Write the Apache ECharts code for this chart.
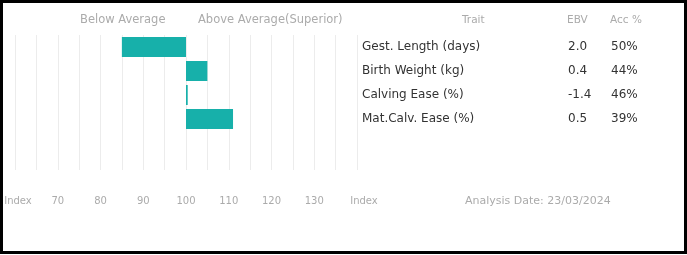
<!DOCTYPE html>
<html>
<head>
<meta charset="utf-8">
<script src="https://cdn.jsdelivr.net/npm/echarts@6/dist/echarts.min.js"></script>
<style>
  html, body { margin: 0; padding: 0; background: #fff; }
  #wrap { position: relative; width: 687px; height: 255px; }
  #chart { width: 687px; height: 255px; }
  #frame {
    position: absolute; left: 0; top: 0; width: 687px; height: 254px;
    box-sizing: border-box; border: 3px solid #000; pointer-events: none;
  }
</style>
</head>
<body>
<div id="wrap">
  <div id="chart"></div>
  <div id="frame"></div>
</div>
<script>
// trait table + index values
const traits = ['Gest. Length (days)', 'Birth Weight (kg)', 'Calving Ease (%)', 'Mat.Calv. Ease (%)'];
const ebv = ['2.0', '0.4', '-1.4', '0.5'];
const acc = ['50%', '44%', '46%', '39%'];
const indexValues = [85, 105, 100.4, 111];

const axisMin = 60, axisMax = 140, avg = 100;
const barColor = '#17b0aa';
const lightText = '#ababab';

// bars grow from the average line (100) in either direction
const baseVals = indexValues.map(v => Math.min(v, avg));
const spanVals = indexValues.map(v => Math.abs(v - avg));

const chart = echarts.init(document.getElementById('chart'));

chart.setOption({
  animation: false,
  textStyle: { fontFamily: 'DejaVu Sans' },
  grid: [
    // grid 0: gridlines + index axis
    { left: 15, right: 330, top: 35, height: 135, outerBoundsMode: 'none' },
    // grid 1: bars + trait table
    { left: 15, right: 330, top: 35, height: 96, outerBoundsMode: 'none' }
  ],
  xAxis: [
    {
      gridIndex: 0, type: 'value', min: axisMin, max: axisMax, interval: 5,
      axisLine: { show: false }, axisTick: { show: false },
      splitLine: { lineStyle: { color: '#ececec', width: 1 } },
      axisLabel: {
        margin: 26, color: lightText, fontSize: 10,
        formatter: v => {
          if (v === axisMin) return '{lo|Index}';
          if (v === axisMax) return '{hi|Index}';
          return v % 10 === 0 ? String(v) : '';
        },
        rich: {
          lo: { padding: [0, 0, 0, 6], color: lightText, fontSize: 10 },
          hi: { padding: [0, 0, 0, 14], color: lightText, fontSize: 10 }
        }
      }
    },
    {
      gridIndex: 1, type: 'value', min: axisMin, max: axisMax,
      show: false
    }
  ],
  yAxis: [
    { gridIndex: 0, type: 'value', show: false },
    {
      gridIndex: 1, type: 'category', inverse: true, position: 'right',
      data: traits,
      axisLine: { show: false }, axisTick: { show: false },
      axisLabel: {
        margin: 5, align: 'left',
        formatter: (name, i) => '{t|' + name + '}{e|' + ebv[i] + '}{a|' + acc[i] + '}',
        rich: {
          t: { width: 206, fontSize: 12, color: '#333' },
          e: { width: 43, fontSize: 12, color: '#333' },
          a: { fontSize: 12, color: '#333' }
        }
      }
    }
  ],
  series: [
    {
      type: 'bar', xAxisIndex: 1, yAxisIndex: 1, stack: 'idx',
      data: baseVals, barWidth: 20,
      itemStyle: { color: 'transparent' }, silent: true
    },
    {
      type: 'bar', xAxisIndex: 1, yAxisIndex: 1, stack: 'idx',
      data: spanVals, barWidth: 20,
      itemStyle: { color: barColor }
    }
  ],
  graphic: [
    { type: 'text', left: 80, top: 14, style: { text: 'Below Average', fill: lightText, fontSize: 11.5, fontFamily: 'DejaVu Sans' } },
    { type: 'text', left: 198, top: 14, style: { text: 'Above Average(Superior)', fill: lightText, fontSize: 11.5, fontFamily: 'DejaVu Sans' } },
    { type: 'text', left: 462, top: 15, style: { text: 'Trait', fill: lightText, fontSize: 10.5, fontFamily: 'DejaVu Sans' } },
    { type: 'text', left: 567, top: 15, style: { text: 'EBV', fill: lightText, fontSize: 10.5, fontFamily: 'DejaVu Sans' } },
    { type: 'text', left: 610, top: 15, style: { text: 'Acc %', fill: lightText, fontSize: 10.5, fontFamily: 'DejaVu Sans' } },
    { type: 'text', left: 465, top: 196, style: { text: 'Analysis Date: 23/03/2024', fill: lightText, fontSize: 11, fontFamily: 'DejaVu Sans' } }
  ]
});
</script>
</body>
</html>
